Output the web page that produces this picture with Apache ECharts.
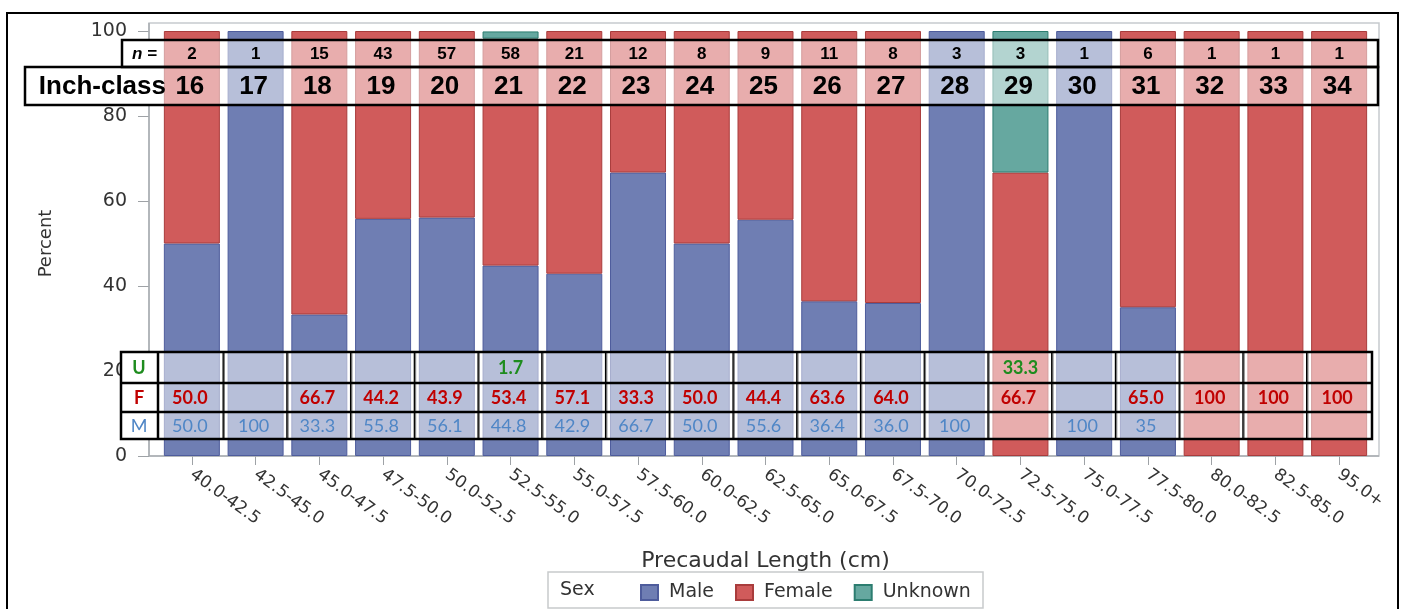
<!DOCTYPE html>
<html>
<head>
<meta charset="utf-8">
<script src="https://cdn.jsdelivr.net/npm/echarts@6/dist/echarts.min.js"></script>
<style>html,body{margin:0;padding:0;background:#fff;}#c{width:1403px;height:609px;}</style>
</head>
<body>
<div id="c"></div>
<script>
const categories = ['40.0-42.5','42.5-45.0','45.0-47.5','47.5-50.0','50.0-52.5','52.5-55.0','55.0-57.5','57.5-60.0','60.0-62.5','62.5-65.0','65.0-67.5','67.5-70.0','70.0-72.5','72.5-75.0','75.0-77.5','77.5-80.0','80.0-82.5','82.5-85.0','95.0+'];
const nCounts = [2,1,15,43,57,58,21,12,8,9,11,8,3,3,1,6,1,1,1];
const inchClass = [16,17,18,19,20,21,22,23,24,25,26,27,28,29,30,31,32,33,34];
const male    = [50.0,100,33.3,55.8,56.1,44.8,42.9,66.7,50.0,55.6,36.4,36.0,100,0,100,35,0,0,0];
const female  = [50.0,0,66.7,44.2,43.9,53.4,57.1,33.3,50.0,44.4,63.6,64.0,0,66.7,0,65.0,100,100,100];
const unknown = [0,0,0,0,0,1.7,0,0,0,0,0,0,0,33.3,0,0,0,0,0];
const maleText    = ['50.0','100','33.3','55.8','56.1','44.8','42.9','66.7','50.0','55.6','36.4','36.0','100','','100','35','','',''];
const femaleText  = ['50.0','','66.7','44.2','43.9','53.4','57.1','33.3','50.0','44.4','63.6','64.0','','66.7','','65.0','100','100','100'];
const unknownText = ['','','','','','1.7','','','','','','','','33.3','','','','',''];

const GL = 160, GR = 1371, GT = 31, GB = 456;
const SANS = '"DejaVu Sans", sans-serif';
const ARIAL = '"Liberation Sans", Arial, sans-serif';
const CAL = 'Lato, "Open Sans", sans-serif';
const nz = a => a.map(v => v === 0 ? null : v);

const chart = echarts.init(document.getElementById('c'), null, {renderer: 'canvas'});

function renderTables(params, api) {
  const i = api.value(0);
  const cx = api.coord([i, 0])[0];
  const bw = api.size([1, 0])[0];
  const x0 = cx - bw / 2, x1 = cx + bw / 2;
  const children = [
    {type: 'rect', shape: {x: x0, y: 40, width: bw, height: 65}, style: {fill: 'rgba(255,255,255,0.5)'}},
    {type: 'rect', shape: {x: x0, y: 352, width: bw, height: 87}, style: {fill: 'rgba(255,255,255,0.5)'}},
    {type: 'text', style: {text: String(nCounts[i]), x: cx, y: 54, align: 'center', verticalAlign: 'middle', fontSize: 17, fontWeight: 'bold', fontFamily: ARIAL, fill: '#000'}},
    {type: 'text', style: {text: String(inchClass[i]), x: cx - 2, y: 87, align: 'center', verticalAlign: 'middle', fontSize: 26, fontWeight: 'bold', fontFamily: ARIAL, fill: '#000'}},
    {type: 'text', style: {text: unknownText[i], x: cx, y: 368, align: 'center', verticalAlign: 'middle', fontSize: 18, fontWeight: 'bold', fontFamily: CAL, fill: '#1E8C1E'}},
    {type: 'text', style: {text: femaleText[i], x: cx - 2, y: 398, align: 'center', verticalAlign: 'middle', fontSize: 18, fontWeight: 'bold', fontFamily: CAL, fill: '#C00000'}},
    {type: 'text', style: {text: maleText[i], x: cx - 2, y: 426, align: 'center', verticalAlign: 'middle', fontSize: 18, fontWeight: 'normal', fontFamily: CAL, fill: '#4F86C6'}}
  ];
  if (i < categories.length - 1) {
    children.push({type: 'line', shape: {x1: x1, y1: 352, x2: x1, y2: 439}, style: {stroke: '#000', lineWidth: 2.5}});
  }
  return {type: 'group', children: children};
}

const option = {
  animation: false,
  backgroundColor: '#fff',
  grid: {left: GL, right: 1403 - GR, top: GT, bottom: 609 - GB, containLabel: false},
  xAxis: {
    type: 'category', data: categories,
    axisLine: {show: false},
    axisTick: {show: true, alignWithLabel: true, length: 9, lineStyle: {color: '#9EA2A6'}},
    axisLabel: {interval: 0, rotate: -36, margin: 17, fontFamily: SANS, fontSize: 17, color: '#333'},
    name: 'Precaudal Length (cm)', nameLocation: 'middle', nameGap: 94,
    nameTextStyle: {fontFamily: SANS, fontSize: 22, color: '#333'}
  },
  yAxis: {
    type: 'value', min: 0, max: 100, interval: 20, offset: 11,
    axisLine: {show: false},
    axisTick: {show: true, length: 11, lineStyle: {color: '#9EA2A6'}},
    axisLabel: {margin: 22, fontFamily: SANS, fontSize: 19, color: '#333'},
    splitLine: {show: false},
    name: 'Percent', nameLocation: 'middle', nameGap: 94,
    nameTextStyle: {fontFamily: SANS, fontSize: 18, color: '#333'}
  },
  legend: {
    data: ['Male', 'Female', 'Unknown'], left: 635, top: 578, orient: 'horizontal',
    itemWidth: 17, itemHeight: 15, itemGap: 21, icon: 'rect',
    textStyle: {fontFamily: SANS, fontSize: 19, color: '#333', padding: [0, 0, 0, 6]}
  },
  series: [
    {name: 'Male', type: 'bar', stack: 's', barWidth: 56, data: nz(male),
     itemStyle: {color: '#6F7EB3', borderColor: '#4E5C9C', borderWidth: 1}},
    {name: 'Female', type: 'bar', stack: 's', barWidth: 56, data: nz(female),
     itemStyle: {color: '#D05B5B', borderColor: '#A93C3C', borderWidth: 1}},
    {name: 'Unknown', type: 'bar', stack: 's', barWidth: 56, data: nz(unknown),
     itemStyle: {color: '#66A8A0', borderColor: '#2C7D70', borderWidth: 1}},
    {name: 'tables', type: 'custom', z: 8, silent: true,
     data: categories.map((c, i) => [i]), encode: {x: 0},
     renderItem: renderTables}
  ],
  graphic: [
    {type: 'rect', z: 0, shape: {x: 7, y: 13, width: 1391, height: 620}, style: {fill: 'none', stroke: '#000', lineWidth: 2}},
    {type: 'rect', z: 0, shape: {x: 149, y: 23, width: 1230, height: 433}, style: {fill: 'none', stroke: '#C6CACE', lineWidth: 1.5}},
    {type: 'line', z: 1, shape: {x1: 149, y1: 456, x2: 1379, y2: 456}, style: {stroke: '#A8ACB0', lineWidth: 1.5}},
    {type: 'line', z: 1, shape: {x1: 149, y1: 23, x2: 149, y2: 456}, style: {stroke: '#A8ACB0', lineWidth: 1.5}},
    // top table
    {type: 'rect', z: 10, shape: {x: 122, y: 40, width: 38, height: 27}, style: {fill: '#fff'}},
    {type: 'rect', z: 10, shape: {x: 25, y: 67, width: 135, height: 38}, style: {fill: '#fff'}},
    {type: 'text', z: 12, style: {text: 'n =', x: 157, y: 54, align: 'right', verticalAlign: 'middle', fontSize: 17, fontWeight: 'bold', fontStyle: 'italic', fontFamily: ARIAL, fill: '#000'}},
    {type: 'text', z: 12, style: {text: 'Inch-class', x: 166, y: 87, align: 'right', verticalAlign: 'middle', fontSize: 26, fontWeight: 'bold', fontFamily: ARIAL, fill: '#000'}},
    {type: 'rect', z: 20, shape: {x: 122, y: 40, width: 1256, height: 27}, style: {fill: 'none', stroke: '#000', lineWidth: 2.5}},
    {type: 'rect', z: 20, shape: {x: 25, y: 67, width: 1353, height: 38}, style: {fill: 'none', stroke: '#000', lineWidth: 2.5}},
    // bottom table
    {type: 'rect', z: 10, shape: {x: 121, y: 352, width: 37, height: 87}, style: {fill: '#fff'}},
    {type: 'text', z: 12, style: {text: 'U', x: 139, y: 368, align: 'center', verticalAlign: 'middle', fontSize: 18, fontWeight: 'bold', fontFamily: CAL, fill: '#1E8C1E'}},
    {type: 'text', z: 12, style: {text: 'F', x: 139, y: 398, align: 'center', verticalAlign: 'middle', fontSize: 18, fontWeight: 'bold', fontFamily: CAL, fill: '#C00000'}},
    {type: 'text', z: 12, style: {text: 'M', x: 139, y: 426, align: 'center', verticalAlign: 'middle', fontSize: 18, fontWeight: 'normal', fontFamily: CAL, fill: '#4F86C6'}},
    {type: 'rect', z: 20, shape: {x: 121, y: 352, width: 1251, height: 87}, style: {fill: 'none', stroke: '#000', lineWidth: 2.5}},
    {type: 'line', z: 20, shape: {x1: 121, y1: 383, x2: 1372, y2: 383}, style: {stroke: '#000', lineWidth: 2.5}},
    {type: 'line', z: 20, shape: {x1: 121, y1: 412, x2: 1372, y2: 412}, style: {stroke: '#000', lineWidth: 2.5}},
    {type: 'line', z: 20, shape: {x1: 158, y1: 352, x2: 158, y2: 439}, style: {stroke: '#000', lineWidth: 2.5}},
    // legend box
    {type: 'rect', z: 1, shape: {x: 548, y: 572, width: 435, height: 36}, style: {fill: '#fff', stroke: '#C8CACC', lineWidth: 1.5}},
    {type: 'text', z: 5, style: {text: 'Sex', x: 560, y: 590, align: 'left', verticalAlign: 'middle', fontSize: 19, fontFamily: SANS, fill: '#333'}}
  ]
};
chart.setOption(option);
</script>
</body>
</html>
